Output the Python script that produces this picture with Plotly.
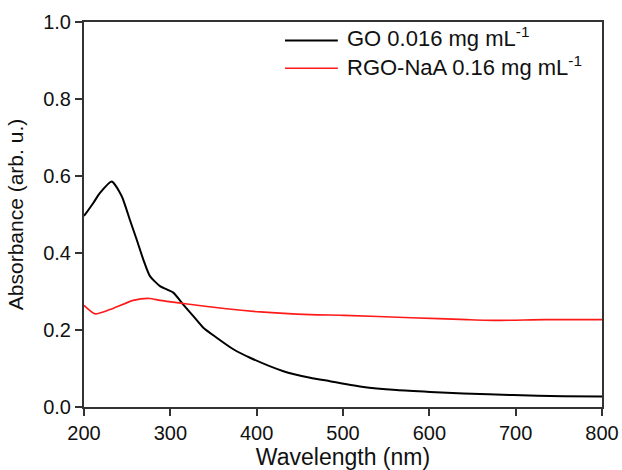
import plotly.graph_objects as go

# UV-vis absorbance spectra
go_wavelength = [200, 210.8, 218.5, 232, 243.6, 253, 261, 268.7, 276.4, 288, 303.4, 315,
                 326.6, 338.2, 353.7, 373, 392.3, 431, 462, 485, 523.6, 562, 600.8, 639.4,
                 697, 755, 800]
go_absorbance = [0.496, 0.530, 0.556, 0.586, 0.548, 0.487, 0.435, 0.383, 0.340, 0.314, 0.297, 0.266,
                 0.236, 0.206, 0.180, 0.150, 0.128, 0.093, 0.076, 0.067, 0.052, 0.044, 0.039,
                 0.035, 0.031, 0.028, 0.027]

rgo_wavelength = [200, 212.7, 230, 257, 276, 288, 315, 365, 404, 462, 501.5, 578.8, 644, 679,
                  733, 800]
rgo_absorbance = [0.264, 0.242, 0.253, 0.277, 0.282, 0.277, 0.269, 0.255, 0.247, 0.240, 0.238,
                  0.232, 0.227, 0.225, 0.227, 0.227]

series_names = ["GO 0.016 mg mL<sup>-1</sup>", "RGO-NaA 0.16 mg mL<sup>-1</sup>"]
series_colors = ["#000000", "#ff1a1a"]
series_widths = [2, 1.6]

x_ticks = [200, 300, 400, 500, 600, 700, 800]
y_ticks = [0.0, 0.2, 0.4, 0.6, 0.8, 1.0]

font_family = "Liberation Sans, Arial, sans-serif"
axis_color = "#333333"
text_color = "#111111"

fig = go.Figure()
for xs, ys, name, color, width in zip(
    [go_wavelength, rgo_wavelength], [go_absorbance, rgo_absorbance],
    series_names, series_colors, series_widths,
):
    fig.add_trace(go.Scatter(
        x=xs, y=ys, mode="lines", name=name, showlegend=False,
        line=dict(color=color, width=width, shape="spline", smoothing=0.6),
    ))

# legend: sample lines plus a two-line label block
legend_rows_y = [0.952, 0.880]
for color, width, ly in zip(series_colors, series_widths, legend_rows_y):
    fig.add_shape(type="line", xref="paper", yref="paper",
                  x0=0.388, x1=0.490, y0=ly, y1=ly,
                  line=dict(color=color, width=width))
fig.add_annotation(xref="paper", yref="paper", x=0.503, y=0.924,
                   xanchor="left", yanchor="middle", align="left", showarrow=False,
                   text="<br>".join(series_names),
                   font=dict(family=font_family, size=22, color=text_color))

axis_common = dict(
    showline=True, linecolor=axis_color, linewidth=2, mirror=True,
    ticks="outside", ticklen=7, tickwidth=2, tickcolor=axis_color,
    showgrid=False, zeroline=False, automargin=False,
    tickfont=dict(family=font_family, size=20, color=text_color),
)

fig.update_xaxes(
    range=[200, 800], tickvals=x_ticks, ticktext=[str(v) for v in x_ticks],
    title_text="Wavelength (nm)", title_standoff=2,
    title_font=dict(family=font_family, size=23, color=text_color),
    **axis_common,
)
fig.update_yaxes(
    range=[0, 1.0], tickvals=y_ticks, ticktext=[f"{v:.1f}" for v in y_ticks],
    title_text="Absorbance (arb. u.)", title_standoff=14,
    title_font=dict(family=font_family, size=21, color=text_color),
    **axis_common,
)

fig.update_layout(
    width=622, height=470,
    margin=dict(l=84, r=20, t=22, b=63),
    paper_bgcolor="white", plot_bgcolor="white",
    showlegend=False,
)

fig.write_html("out.html")
